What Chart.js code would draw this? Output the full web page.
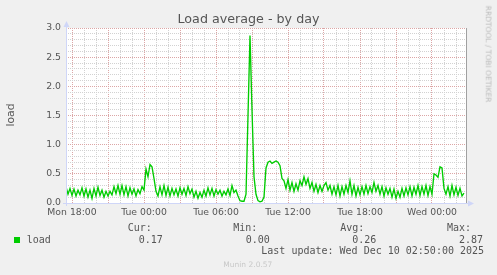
<!DOCTYPE html>
<html><head><meta charset="utf-8">
<script src="https://cdn.jsdelivr.net/npm/chart.js@4.4.1/dist/chart.umd.min.js"></script>
<style>
html,body{margin:0;padding:0;background:#f0f0f0;}
#wrap{position:relative;width:497px;height:275px;overflow:hidden;background:#f0f0f0;}
#c{position:absolute;left:0;top:0;}
.t{position:absolute;white-space:pre;line-height:1;}
.mono{font-family:'DejaVu Sans Mono',monospace;font-size:10px;color:#555;}
</style></head><body>
<div id="wrap">
<canvas id="c" width="497" height="275"></canvas>
<div class="t" style="left:0;width:497px;text-align:center;top:12.5px;font-family:'DejaVu Sans';font-size:12.7px;color:#555;">Load average - by day</div>
<div class="t" style="left:10.5px;top:114.5px;transform:translate(-50%,-50%) rotate(-90deg);font-family:'DejaVu Sans';font-size:10.8px;color:#555;">load</div>
<div class="t" style="left:487.5px;top:53.5px;transform:translate(-50%,-50%) rotate(90deg);font-family:'DejaVu Sans';font-size:7.5px;color:#bbb;">RRDTOOL / TOBI OETIKER</div>
<div style="position:absolute;left:14px;top:237px;width:6px;height:6px;background:#00cc00;"></div>
<div class="t mono" id="lg"></div>
</div>
<script>
// ---- data ----
const seriesName = 'load';
const startHour = 17.5;          // Mon 17:30 (hours since Mon 00:00)
const endHour = 50 + 50/60;      // Wed 02:50
const stepHours = 1/6;           // one sample per 10 minutes
const loadValues = [
0.28,0.15,0.25,0.13,0.24,0.12,0.22,0.14,0.26,0.12,
0.24,0.10,0.22,0.08,0.25,0.12,0.27,0.13,0.22,0.10,
0.20,0.12,0.20,0.14,0.28,0.16,0.30,0.15,0.30,0.14,
0.28,0.12,0.26,0.15,0.24,0.12,0.23,0.16,0.28,
0.22,0.58,0.45,0.66,0.62,0.42,0.20,
0.12,0.28,0.14,0.30,0.13,0.27,0.12,0.25,0.14,0.24,
0.12,0.26,0.15,0.25,0.13,0.28,0.16,0.24,0.10,0.20,
0.08,0.18,0.10,0.22,0.12,0.26,0.14,0.25,0.12,0.23,
0.15,0.22,0.12,0.20,0.14,0.24,0.13,0.30,0.18,0.22,
0.12,0.04,0.03,0.03,0.15,1.50,2.87,1.60,0.45,0.15,
0.04,0.02,0.03,0.10,0.60,0.70,0.72,0.68,0.70,0.72,
0.70,0.64,0.42,
0.38,0.25,0.40,0.22,0.35,0.20,0.33,0.22,0.38,0.30,
0.45,0.32,0.42,0.25,0.35,0.20,0.32,0.18,0.30,0.20,
0.30,0.35,0.22,0.30,0.15,0.28,0.14,0.30,0.12,0.28,
0.15,0.30,0.18,0.38,0.15,0.30,0.12,0.27,0.14,0.28,
0.15,0.30,0.16,0.28,0.18,0.35,0.20,0.30,0.15,0.28,
0.12,0.26,0.15,0.25,0.10,0.24,0.08,0.20,0.10,0.25,
0.12,0.26,0.14,0.28,0.12,0.27,0.15,0.30,0.13,0.28,
0.15,0.30,0.13,0.28,
0.15,
0.50,0.48,0.44,0.62,0.60,0.25,
0.15,0.28,0.12,0.30,0.14,0.27,0.13,0.25,0.12,0.17
];
const xLabelHours = [18, 24, 30, 36, 42, 48];
const xLabels = ['Mon 18:00','Tue 00:00','Tue 06:00','Tue 12:00','Tue 18:00','Wed 00:00'];
const yLabelValues = [0, 0.5, 1.0, 1.5, 2.0, 2.5, 3.0];
const yLabels = ['0.0','0.5','1.0','1.5','2.0','2.5','3.0'];
const statNames = ['Cur:','Min:','Avg:','Max:'];
const statValues = ['0.17','0.00','0.26','2.87'];
const lastUpdate = 'Last update: Wed Dec 10 02:50:00 2025';
const versionText = 'Munin 2.0.57';

// ---- build ----
const points = loadValues.map((v, i) => ({x: startHour + i * stepHours, y: v}));
const hourTicks = [];
for (let h = Math.ceil(startHour); h <= Math.floor(endHour); h++) hourTicks.push(h);
const yTicks = [];
for (let k = 0; k <= 30; k++) yTicks.push(k / 10);
const majorColor = '#dca6a6';
const minorColor = '#d2d2d2';
const isMajorY = v => yLabelValues.some(m => Math.abs(m - v) < 1e-6);

// legend text
const lg = document.getElementById('lg');
const statX = [127.7, 233.3, 340.3, 447];
const valX = [138.7, 245.7, 352.3, 459];
let html = '';
statNames.forEach((s, i) => { html += `<span class="t mono" style="left:${statX[i]}px;top:223px">${s}</span>`; });
statValues.forEach((s, i) => { html += `<span class="t mono" style="left:${valX[i]}px;top:234.5px">${s}</span>`; });
html += `<span class="t mono" style="left:26.7px;top:234.5px">${seriesName}</span>`;
html += `<span class="t mono" style="left:261.3px;top:245.5px">${lastUpdate}</span>`;
html += `<span class="t" style="left:223.3px;top:261.2px;font-family:'DejaVu Sans';font-size:7.5px;color:#c8c8c8">${versionText}</span>`;
lg.outerHTML = html;

const bgPlugin = {
  id: 'bg',
  beforeDraw(chart) {
    const {ctx, chartArea: a} = chart;
    ctx.save();
    ctx.fillStyle = '#f0f0f0';
    ctx.fillRect(0, 0, chart.width, chart.height);
    ctx.fillStyle = '#ffffff';
    ctx.fillRect(a.left, a.top, a.right - a.left, a.bottom - a.top);
    ctx.restore();
  }
};
const axesPlugin = {
  id: 'axes',
  afterDraw(chart) {
    const {ctx, chartArea: a} = chart;
    ctx.save();
    ctx.lineWidth = 1;
    ctx.strokeStyle = '#a0a0a0';
    ctx.beginPath(); ctx.moveTo(a.right + 0.5, a.top); ctx.lineTo(a.right + 0.5, a.bottom); ctx.stroke();
    ctx.strokeStyle = '#CFD6F8';
    ctx.fillStyle = '#CFD6F8';
    const yb = a.bottom + 0.5, xl = a.left + 0.5;
    ctx.beginPath(); ctx.moveTo(a.left - 3, yb); ctx.lineTo(a.right + 3, yb); ctx.stroke();
    ctx.beginPath(); ctx.moveTo(a.right + 2, yb - 3); ctx.lineTo(a.right + 8, yb); ctx.lineTo(a.right + 2, yb + 3); ctx.closePath(); ctx.fill();
    ctx.beginPath(); ctx.moveTo(xl, a.bottom + 3); ctx.lineTo(xl, a.top - 3); ctx.stroke();
    ctx.beginPath(); ctx.moveTo(xl - 3, a.top - 1); ctx.lineTo(xl, a.top - 7); ctx.lineTo(xl + 3, a.top - 1); ctx.closePath(); ctx.fill();
    ctx.restore();
  }
};

new Chart(document.getElementById('c'), {
  type: 'line',
  data: { datasets: [{ label: seriesName, data: points, borderColor: '#00cc00', borderWidth: 1.35, pointRadius: 0, tension: 0, fill: false }] },
  options: {
    responsive: false, animation: false, events: [],
    layout: { padding: { left: 0, top: 28, right: 31, bottom: 52 } },
    plugins: { legend: { display: false }, title: { display: false }, tooltip: { enabled: false } },
    scales: {
      x: {
        type: 'linear', min: startHour, max: endHour,
        afterBuildTicks: s => { s.ticks = hourTicks.map(v => ({ value: v })); },
        afterFit: s => { s.height = 20; },
        grid: { color: c => (c.tick && c.tick.value % 3 === 0) ? majorColor : minorColor, lineWidth: 1, drawTicks: false },
        border: { display: false, dash: [1, 1] },
        ticks: {
          autoSkip: false, maxRotation: 0, minRotation: 0, padding: 4, color: '#555',
          font: { family: 'DejaVu Sans', size: 9.3 },
          callback: v => { const k = xLabelHours.indexOf(v); return k >= 0 ? xLabels[k] : ''; }
        }
      },
      y: {
        type: 'linear', min: 0, max: 3,
        afterBuildTicks: s => { s.ticks = yTicks.map(v => ({ value: v })); },
        afterFit: s => { s.width = 66; },
        grid: { color: c => (c.tick && isMajorY(c.tick.value)) ? majorColor : minorColor, lineWidth: 1, drawTicks: false },
        border: { display: false, dash: [1, 1] },
        ticks: {
          autoSkip: false, padding: 5, color: '#555',
          font: { family: 'DejaVu Sans', size: 9.3 },
          callback: v => { const k = yLabelValues.findIndex(m => Math.abs(m - v) < 1e-6); return k >= 0 ? yLabels[k] : ''; }
        }
      }
    }
  },
  plugins: [bgPlugin, axesPlugin]
});
</script>
</body></html>
